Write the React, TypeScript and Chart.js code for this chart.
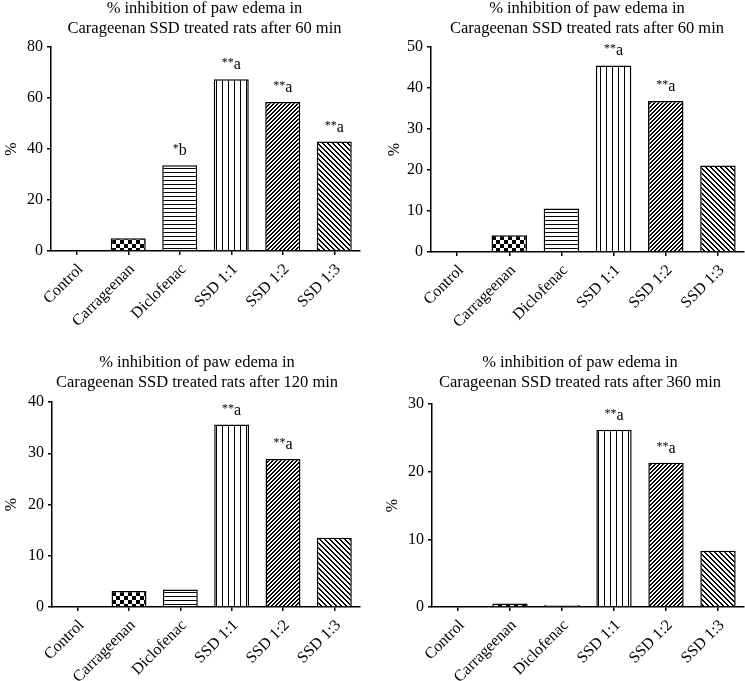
import React, { useEffect, useRef } from "react";
import { Chart, registerables } from "chart.js";

Chart.register(...registerables);

const FONT = "'Liberation Serif', 'Times New Roman', serif";

// ---------- data ----------
const categories = ["Control", "Carrageenan", "Diclofenac", "SSD 1:1", "SSD 1:2", "SSD 1:3"];

const titleLine1 = "% inhibition of paw edema in";
const titleLine2A = "Carageenan SSD treated rats after 60 min";
const titleLine2B = "Carageenan SSD treated rats after 60 min";
const titleLine2C = "Carageenan SSD treated rats after 120 min";
const titleLine2D = "Carageenan SSD treated rats after 360 min";

const valuesA = [0, 5.0, 33.6, 67.4, 58.4, 42.9];
const valuesB = [0, 4.1, 10.6, 45.5, 36.8, 21.1];
const valuesC = [0, 3.1, 3.4, 35.6, 28.9, 13.5];
const valuesD = [0, 0.5, 0.3, 26.2, 21.3, 8.3];

const marksA = ["", "", "*b", "**a", "**a", "**a"];
const marksB = ["", "", "", "**a", "**a", ""];
const marksC = ["", "", "", "**a", "**a", ""];
const marksD = ["", "", "", "**a", "**a", ""];

const yMaxA = 80, yStepA = 20;
const yMaxB = 50, yStepB = 10;
const yMaxC = 40, yStepC = 10;
const yMaxD = 30, yStepD = 10;

const yAxisLabel = "%";

// pattern kinds per category
const patternKinds = ["checker", "checker", "hlines", "vlines", "fdiag", "bdiag"];

// ---------- layout (positions/sizes only) ----------
type Layout = {
  left: number; top: number; width: number; height: number;
  yAxisWidth: number; rightGap: number; xAxisHeight: number;
  yTitlePad: number; titlePadTop: number; titlePadBottom: number;
};

const layoutA: Layout = { left: 0, top: -4, width: 409, height: 344, yAxisWidth: 51, rightGap: 49, xAxisHeight: 89, yTitlePad: 2.1, titlePadTop: 2.9, titlePadBottom: 8.5 };
const layoutB: Layout = { left: 384, top: -4, width: 406, height: 344, yAxisWidth: 47, rightGap: 46, xAxisHeight: 88, yTitlePad: 0.7, titlePadTop: 2.9, titlePadBottom: 8.5 };
const layoutC: Layout = { left: 0, top: 340, width: 394, height: 341, yAxisWidth: 52, rightGap: 34, xAxisHeight: 74, yTitlePad: 2.1, titlePadTop: 13.1, titlePadBottom: 9.3 };
const layoutD: Layout = { left: 382, top: 340, width: 396, height: 341, yAxisWidth: 50, rightGap: 34, xAxisHeight: 74, yTitlePad: 1.4, titlePadTop: 13.1, titlePadBottom: 11.3 };

function makePattern(kind: string): CanvasPattern | string {
  const sizes: Record<string, number> = { checker: 8, hlines: 4, vlines: 6, fdiag: 4, bdiag: 5 };
  const s = sizes[kind] || 4;
  const c = document.createElement("canvas");
  c.width = s;
  c.height = s;
  const g = c.getContext("2d");
  if (!g) return "#fff";
  const img = g.createImageData(s, s);
  for (let y = 0; y < s; y++) {
    for (let x = 0; x < s; x++) {
      let dark = false;
      if (kind === "checker") dark = (x < 4) !== (y < 4);
      else if (kind === "hlines") dark = y === 0;
      else if (kind === "vlines") dark = x === 0;
      else if (kind === "fdiag") dark = (x + y) % s < 2;
      else if (kind === "bdiag") dark = (((x - y) % s) + s) % s < 2;
      const v = dark ? 0 : 255;
      const i = (y * s + x) * 4;
      img.data[i] = v;
      img.data[i + 1] = v;
      img.data[i + 2] = v;
      img.data[i + 3] = 255;
    }
  }
  g.putImageData(img, 0, 0);
  return g.createPattern(c, "repeat") || "#fff";
}

const sigPlugin = {
  id: "sigLabels",
  afterDatasetsDraw(chart: any, _args: any, opts: any) {
    const labels: string[] = opts.labels || [];
    const ctx = chart.ctx;
    const meta = chart.getDatasetMeta(0);
    ctx.save();
    ctx.fillStyle = "#000";
    ctx.textAlign = "left";
    ctx.textBaseline = "alphabetic";
    meta.data.forEach((bar: any, i: number) => {
      const txt = labels[i];
      if (!txt) return;
      const stars = txt.replace(/[^*]/g, "");
      const letter = txt.replace(/\*/g, "");
      const small = `12px ${FONT}`;
      const big = `16px ${FONT}`;
      ctx.font = small;
      const w1 = ctx.measureText(stars).width;
      ctx.font = big;
      const w2 = ctx.measureText(letter).width;
      const x0 = bar.x - (w1 + w2) / 2;
      const y = bar.y - 10;
      ctx.font = small;
      ctx.fillText(stars, x0, y - 3);
      ctx.font = big;
      ctx.fillText(letter, x0 + w1, y);
    });
    ctx.restore();
  },
};

type PanelProps = {
  values: number[];
  marks: string[];
  yMax: number;
  yStep: number;
  title2: string;
  layout: Layout;
};

function Panel({ values, marks, yMax, yStep, title2, layout }: PanelProps) {
  const ref = useRef<HTMLCanvasElement | null>(null);
  useEffect(() => {
    if (!ref.current) return;
    const bg = patternKinds.map((k) => makePattern(k));
    const tickFont = { family: FONT, size: 16 };
    const chart = new Chart(ref.current, {
      type: "bar",
      data: {
        labels: categories,
        datasets: [
          {
            data: values,
            backgroundColor: bg as any,
            borderColor: "#000",
            borderWidth: 1.5,
            barPercentage: 0.68,
            categoryPercentage: 1,
          },
        ],
      },
      options: {
        responsive: false,
        animation: false,
        layout: { padding: 0 },
        plugins: {
          legend: { display: false },
          tooltip: { enabled: false },
          title: {
            display: true,
            text: [titleLine1, title2],
            color: "#000",
            font: { family: FONT, size: 16.5, weight: "normal", lineHeight: 1.2 },
            padding: { top: layout.titlePadTop, bottom: layout.titlePadBottom },
          },
          sigLabels: { labels: marks },
        } as any,
        scales: {
          x: {
            type: "category",
            grid: {
              display: true,
              drawOnChartArea: false,
              drawTicks: true,
              tickLength: 4,
              offset: false,
              color: "#000",
              lineWidth: 1.5,
            },
            border: { display: true, color: "#000", width: 1.5 },
            ticks: {
              color: "#000",
              font: tickFont,
              minRotation: 45,
              maxRotation: 45,
              autoSkip: false,
              padding: 5,
              labelOffset: 4,
            },
            afterFit: (scale: any) => {
              scale.height = layout.xAxisHeight;
            },
          },
          y: {
            type: "linear",
            position: "left",
            min: 0,
            max: yMax,
            grid: {
              display: true,
              drawOnChartArea: false,
              drawTicks: true,
              tickLength: 4,
              color: "#000",
              lineWidth: 1.5,
            },
            border: { display: true, color: "#000", width: 1.5 },
            ticks: { stepSize: yStep, color: "#000", font: tickFont, padding: 4 },
            title: {
              display: true,
              text: yAxisLabel,
              color: "#000",
              font: { family: FONT, size: 16, lineHeight: 1.2 },
              padding: { top: layout.yTitlePad, bottom: 0 },
            },
            afterFit: (scale: any) => {
              scale.width = layout.yAxisWidth;
            },
          },
          gap: {
            type: "linear",
            position: "right",
            display: true,
            grid: { display: false },
            border: { display: false },
            ticks: { display: false },
            afterFit: (scale: any) => {
              scale.width = layout.rightGap;
            },
          },
        } as any,
      },
      plugins: [sigPlugin as any],
    });
    return () => chart.destroy();
  }, [values, marks, yMax, yStep, title2, layout]);

  return (
    <canvas
      ref={ref}
      width={layout.width}
      height={layout.height}
      style={{
        position: "absolute",
        left: layout.left,
        top: layout.top,
        width: layout.width,
        height: layout.height,
      }}
    />
  );
}

export default function App() {
  return (
    <div
      style={{
        position: "absolute",
        left: 0,
        top: 0,
        width: 745,
        height: 681,
        overflow: "hidden",
        background: "#fff",
      }}
    >
      <Panel values={valuesA} marks={marksA} yMax={yMaxA} yStep={yStepA} title2={titleLine2A} layout={layoutA} />
      <Panel values={valuesB} marks={marksB} yMax={yMaxB} yStep={yStepB} title2={titleLine2B} layout={layoutB} />
      <Panel values={valuesC} marks={marksC} yMax={yMaxC} yStep={yStepC} title2={titleLine2C} layout={layoutC} />
      <Panel values={valuesD} marks={marksD} yMax={yMaxD} yStep={yStepD} title2={titleLine2D} layout={layoutD} />
    </div>
  );
}
